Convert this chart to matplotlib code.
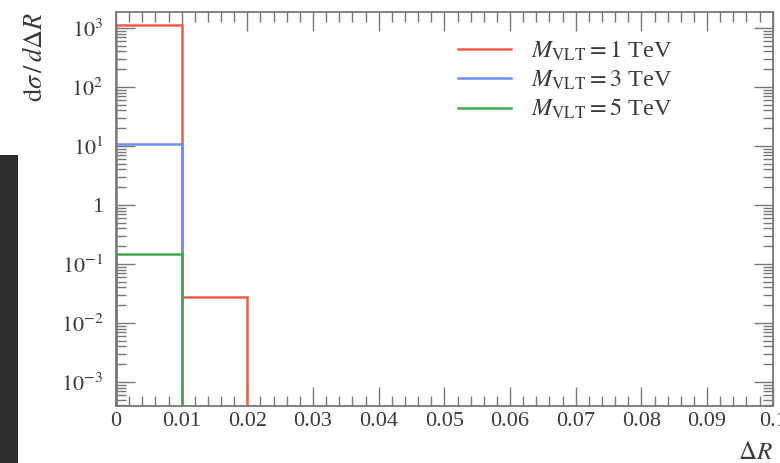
import math
import matplotlib
matplotlib.use("Agg")
import matplotlib.pyplot as plt
import matplotlib.ticker as ticker
from matplotlib.patches import Rectangle

# bin edges and bin contents
edges_1tev = [0.0, 0.01, 0.02]
vals_1tev = [1120, 0.028]
edges_3tev = [0.0, 0.01]
vals_3tev = [10.8]
edges_5tev = [0.0, 0.01]
vals_5tev = [0.147]
labels = [r'$M_{\mathrm{VLT}} = 1$ TeV', r'$M_{\mathrm{VLT}} = 3$ TeV', r'$M_{\mathrm{VLT}} = 5$ TeV']
colors = ['#EE5C46', '#6C8EF2', '#3FAA4A']

plt.rcParams['font.family'] = ['Liberation Serif', 'DejaVu Serif']
plt.rcParams['mathtext.fontset'] = 'stix'

fig = plt.figure(figsize=(7.8, 4.63), dpi=100)
# dark strip at left edge of the screenshot
fig.patches.append(Rectangle((0, 0), 0.023, 0.665, transform=fig.transFigure,
                             facecolor='#2c2c2c', edgecolor='none', zorder=0))
ax = fig.add_axes([0.1487, 0.123, 0.842, 0.851])

base = 1e-6
ax.stairs(vals_1tev, edges_1tev, baseline=base, color=colors[0], lw=1.8, label=labels[0], zorder=2)
ax.stairs(vals_3tev, edges_3tev, baseline=base, color=colors[1], lw=1.8, label=labels[1], zorder=2.1)
ax.stairs(vals_5tev, edges_5tev, baseline=base, color=colors[2], lw=1.8, label=labels[2], zorder=2.2)

ax.set_yscale('log')
ax.set_xlim(0, 0.1)
ax.set_ylim(3.9e-4, 1860)

def yfmt(v, pos):
    e = int(round(math.log10(v)))
    if e == 0:
        return '1'
    return r'$10^{%d}$' % e

def xfmt(v, pos):
    if abs(v) < 1e-9:
        return '0'
    if v > 0.0999:
        return '0.1'
    return '%.2f' % v

ax.yaxis.set_major_locator(ticker.LogLocator(base=10, numticks=20))
ax.yaxis.set_minor_locator(ticker.LogLocator(base=10, subs=range(2, 10), numticks=20))
ax.yaxis.set_major_formatter(ticker.FuncFormatter(yfmt))
ax.yaxis.set_minor_formatter(ticker.NullFormatter())
ax.xaxis.set_major_locator(ticker.MultipleLocator(0.01))
ax.xaxis.set_minor_locator(ticker.MultipleLocator(0.002))
ax.xaxis.set_major_formatter(ticker.FuncFormatter(xfmt))

for s in ax.spines.values():
    s.set_color('#777777')
    s.set_linewidth(1.3)
    s.set_zorder(5)
ax.tick_params(which='both', direction='in', top=True, right=True, color='#777777', width=1.0)
ax.tick_params(which='major', length=14, labelsize=16, labelcolor='#3a3a3a')
ax.tick_params(which='minor', length=7)
ax.tick_params(axis='x', which='major', pad=4)
ax.tick_params(axis='y', which='major', pad=9)

ax.set_ylabel(r'$\mathrm{d}\sigma\,/\,d\Delta R$', loc='top', fontsize=19, color='#3a3a3a')
ax.set_xlabel(r'$\Delta R$', loc='right', fontsize=18, color='#3a3a3a')
ax.yaxis.set_label_coords(-0.105, 1.0)
ax.xaxis.set_label_coords(1.0, -0.09)

ax.legend(loc='upper right', bbox_to_anchor=(0.88, 0.985), frameon=False, fontsize=17.5,
          handlelength=2.2, handletextpad=0.8, labelspacing=0.22, labelcolor='#3a3a3a')

fig.savefig('out.png', dpi=100)
